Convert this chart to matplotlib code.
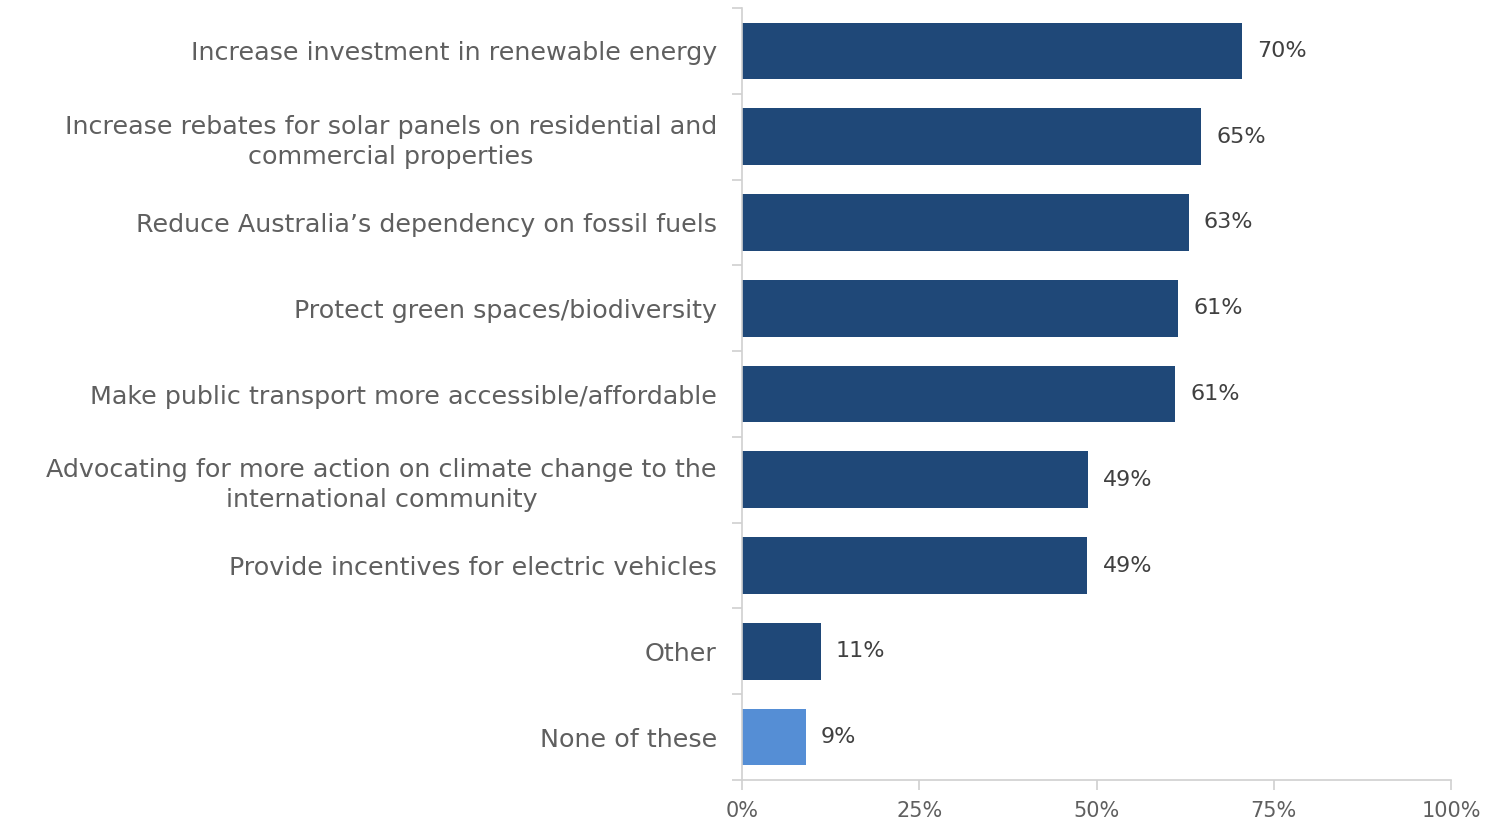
import matplotlib
matplotlib.use('Agg')
from matplotlib import pyplot as plt
import numpy as np

categories = [
    'Increase investment in renewable energy',
    'Increase rebates for solar panels on residential and\ncommercial properties',
    'Reduce Australia\u2019s dependency on fossil fuels',
    'Protect green spaces/biodiversity',
    'Make public transport more accessible/affordable',
    'Advocating for more action on climate change to the\ninternational community',
    'Provide incentives for electric vehicles',
    'Other',
    'None of these',
]
values = [70.5, 64.7, 63.0, 61.5, 61.1, 48.8, 48.7, 11.1, 9.0]
labels = ['70%', '65%', '63%', '61%', '61%', '49%', '49%', '11%', '9%']
colors = ['#1f4878'] * 8 + ['#558ed5']
xticks = [0, 25, 50, 75, 100]

plt.rcParams['font.family'] = ['DejaVu Sans']
text_col = '#5f5f5f'
grid_col = '#d0d0d0'

fig = plt.figure(figsize=(14.89, 8.22), dpi=100)
ax = fig.add_axes([742 / 1489, 1 - 780 / 822, 709 / 1489, 772 / 822])

y = np.arange(len(categories))
ax.barh(y, values, height=0.66, color=colors)
for yi, v, lab in zip(y, values, labels):
    ax.annotate(lab, (v, yi), xytext=(11, 0), textcoords='offset points',
                va='center', ha='left', fontsize=16, color='#404040')

ax.set_xlim(0, 100)
ax.set_ylim(len(categories) - 0.5, -0.5)
ax.set_yticks(y)
ax.set_yticklabels(categories, fontsize=18.3, color=text_col, linespacing=1.3)
for t in ax.get_yticklabels():
    t.set_multialignment('center')
ax.set_yticks(np.arange(-0.5, len(categories)), minor=True)
ax.tick_params(axis='y', which='major', length=0, pad=18)
ax.tick_params(axis='y', which='minor', length=7, color=grid_col, width=1.2)
ax.set_xticks(xticks)
ax.set_xticklabels(['%d%%' % t for t in xticks], fontsize=15, color=text_col)
ax.tick_params(axis='x', length=7, color=grid_col, width=1.2, pad=8)

for s in ['top', 'right']:
    ax.spines[s].set_visible(False)
for s in ['left', 'bottom']:
    ax.spines[s].set_color(grid_col)
    ax.spines[s].set_linewidth(1.2)

fig.savefig('out.png', dpi=100)
